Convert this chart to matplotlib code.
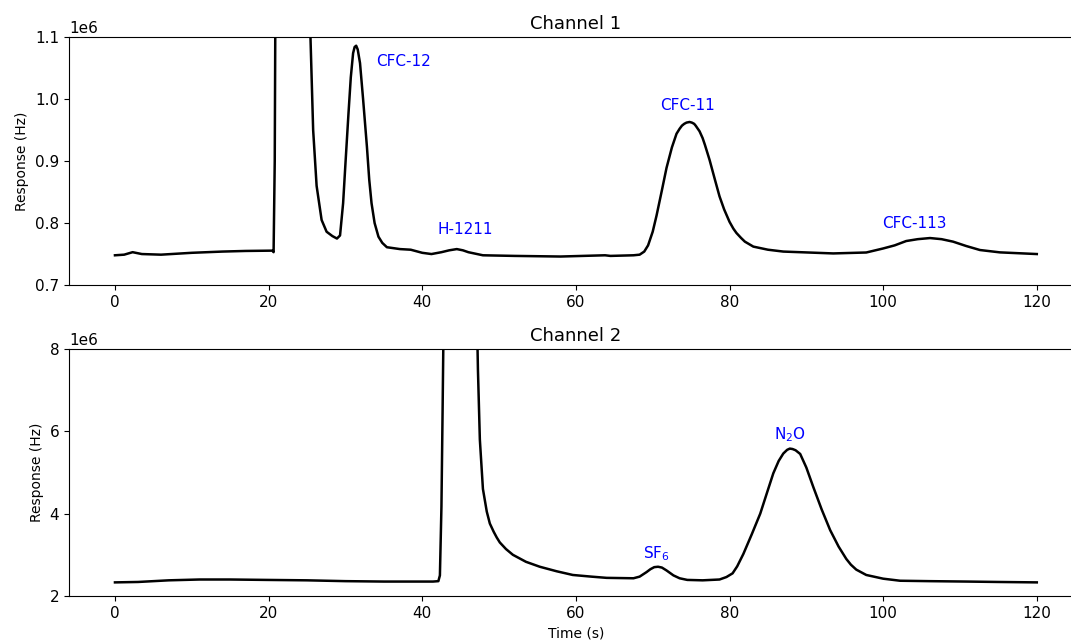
import numpy as np
from matplotlib import pyplot as plt

# Channel 1 trace (time in s, response in 1e6 Hz)
T1 = [0.0, 1.2, 2.3, 3.5, 6.0, 10.0, 14.0, 17.0, 20.5, 20.65, 20.8, 20.9, 22.5,
      25.2, 25.45, 25.8, 26.25, 26.9, 27.55, 28.3, 28.9, 29.3, 29.7, 30.0, 30.4,
      30.7, 31.0, 31.2, 31.4, 31.6, 31.9, 32.3, 32.8, 33.1, 33.4, 33.8, 34.3,
      34.8, 35.4, 37.1, 38.5, 40.0, 41.2, 42.5, 43.5, 44.5, 45.3, 46.0, 47.9,
      52.0, 58.0, 63.8, 64.5, 67.5, 68.3, 68.9, 69.4, 70.0, 70.5, 71.2, 71.8,
      72.5, 73.1, 73.5, 73.8, 74.1, 74.4, 74.8, 75.1, 75.4, 75.6, 76.1, 76.5,
      76.8, 77.4, 78.1, 78.7, 79.3, 80.0, 80.5, 80.9, 81.5, 82.0, 83.1, 85.0,
      87.0, 93.5, 97.8, 100.0, 101.5, 103.0, 104.5, 106.1, 107.6, 109.1, 110.8,
      112.6, 115.2, 120.0]
R1 = [0.748, 0.749, 0.753, 0.750, 0.749, 0.752, 0.754, 0.755, 0.7555, 0.753,
      0.90, 1.20, 2.50,
      1.30, 1.10, 0.95, 0.86, 0.805, 0.786, 0.779, 0.775, 0.780, 0.832, 0.895,
      0.977, 1.035, 1.074, 1.084, 1.086, 1.080, 1.058, 1.000, 0.923, 0.870,
      0.832, 0.800, 0.778, 0.768, 0.761, 0.758, 0.757, 0.752, 0.750, 0.753,
      0.756, 0.758, 0.756, 0.753, 0.748,
      0.747, 0.746, 0.748, 0.747, 0.748, 0.749, 0.754, 0.764, 0.786, 0.812,
      0.853, 0.889, 0.922, 0.944, 0.952, 0.957, 0.960, 0.962, 0.963, 0.962,
      0.960, 0.957, 0.948, 0.937, 0.926, 0.902, 0.870, 0.843, 0.822, 0.802,
      0.791, 0.784, 0.776, 0.770, 0.762, 0.757, 0.754, 0.751,
      0.7525, 0.759, 0.764, 0.771, 0.774, 0.7758, 0.774, 0.770, 0.763, 0.7565,
      0.7527, 0.750]

# Channel 2 trace
T2 = [0.0, 3.0, 7.0, 11.0, 15.0, 19.7, 25.0, 30.0, 35.0, 41.4, 42.1, 42.3,
      42.5, 42.65, 42.8, 45.0, 47.1, 47.25, 47.5, 47.9, 48.4, 48.8, 49.3, 49.7,
      50.1, 50.9, 51.8, 53.5, 55.3, 57.5, 59.6, 62.0, 64.0, 67.5, 68.3, 69.2,
      69.7, 70.2, 70.7, 71.2, 71.8, 72.7, 73.5, 74.5, 76.5, 78.7, 79.6, 80.4,
      81.0, 81.8, 82.9, 84.0, 84.9, 85.7, 86.4, 87.0, 87.5, 87.85, 88.2, 88.6,
      89.2, 90.0, 90.9, 92.0, 93.1, 94.2, 95.2, 95.8, 96.5, 97.8, 100.0, 102.2,
      106.0, 110.9, 115.0, 120.0]
R2 = [2.33, 2.34, 2.38, 2.40, 2.40, 2.39, 2.38, 2.36, 2.35, 2.35, 2.36, 2.5,
      4.17, 6.5, 9.0, 14.0, 9.0, 7.5, 5.8, 4.6, 4.05, 3.76, 3.56, 3.42,
      3.30, 3.14, 3.0, 2.83, 2.71, 2.60, 2.51, 2.47, 2.44, 2.43, 2.47, 2.58,
      2.65, 2.70, 2.71, 2.69, 2.62, 2.50, 2.43, 2.39, 2.38, 2.40, 2.46, 2.55,
      2.72, 3.02, 3.50, 4.00, 4.52, 4.98, 5.28, 5.46, 5.55, 5.58, 5.57, 5.54,
      5.45, 5.12, 4.65, 4.10, 3.60, 3.20, 2.90, 2.76, 2.64, 2.51, 2.42, 2.37,
      2.36, 2.35, 2.34, 2.33]

# peak labels: (text, time, response in 1e6 Hz)
ETIQUETAS_1 = [("CFC-12", 37.5, 1.06), ("H-1211", 45.6, 0.79),
               ("CFC-11", 74.5, 0.99), ("CFC-113", 104.1, 0.80)]
ETIQUETAS_2 = [("SF$_6$", 70.5, 3.02), ("N$_2$O", 87.9, 5.93)]

fig = plt.figure(figsize=(10.71, 6.42), dpi=100)
ax1 = fig.add_axes([0.0643, 0.556, 0.9468, 0.3863])
ax2 = fig.add_axes([0.0643, 0.0717, 0.9468, 0.3847])

ax1.plot(T1, np.array(R1) * 1e6, color='black', lw=1.8)
ax1.set_xlim(-6, 126)
ax1.set_ylim(0.7e6, 1.1e6)
ax1.set_yticks([0.7e6, 0.8e6, 0.9e6, 1.0e6, 1.1e6])
ax1.set_title("Channel 1", fontsize=13)
ax1.set_ylabel("Response (Hz)")
for texto, t, r in ETIQUETAS_1:
    ax1.text(t, r * 1e6, texto, color='blue', ha='center', va='center', fontsize=11)

ax2.plot(T2, np.array(R2) * 1e6, color='black', lw=1.8)
ax2.set_xlim(-6, 126)
ax2.set_ylim(2e6, 8e6)
ax2.set_yticks([2e6, 4e6, 6e6, 8e6])
ax2.set_title("Channel 2", fontsize=13)
ax2.set_ylabel("Response (Hz)")
ax2.set_xlabel("Time (s)")
for texto, t, r in ETIQUETAS_2:
    ax2.text(t, r * 1e6, texto, color='blue', ha='center', va='center', fontsize=11)

for ax in (ax1, ax2):
    ax.tick_params(labelsize=11)
    ax.yaxis.get_offset_text().set_fontsize(11)

fig.savefig("out.png", dpi=100)
